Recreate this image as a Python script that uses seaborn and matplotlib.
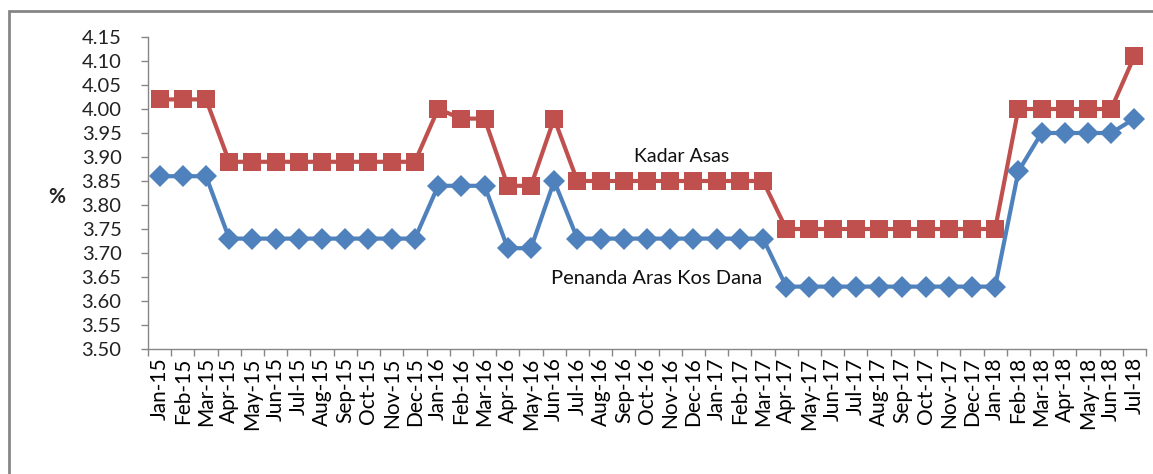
import numpy as np
import pandas as pd
import seaborn as sns
import matplotlib.pyplot as plt
from matplotlib.patches import Rectangle

# ---- data ------------------------------------------------------------
months = ["Jan", "Feb", "Mar", "Apr", "May", "Jun",
          "Jul", "Aug", "Sep", "Oct", "Nov", "Dec"]
years = ["15", "16", "17", "18"]
labels = [m + "-" + y for y in years for m in months][:43]   # Jan-15 .. Jul-18

kadar_asas = ([4.02] * 3 + [3.89] * 9 + [4.00, 3.98, 3.98, 3.84, 3.84, 3.98]
              + [3.85] * 9 + [3.75] * 10 + [4.00] * 5 + [4.11])
penanda_aras = ([3.86] * 3 + [3.73] * 9 + [3.84] * 3 + [3.71] * 2 + [3.85]
                + [3.73] * 9 + [3.63] * 10 + [3.87] + [3.95] * 4 + [3.98])

df = pd.DataFrame({"pos": np.arange(len(labels)), "bulan": labels,
                   "Kadar Asas": kadar_asas,
                   "Penanda Aras Kos Dana": penanda_aras})

red = "#C0504D"
blue = "#4F81BD"
grey = "#868686"

sns.set_style("white")
plt.rcParams["font.family"] = ["Lato", "DejaVu Sans"]

fig = plt.figure(figsize=(11.53, 4.74), dpi=100)
ax = fig.add_axes([148 / 1153, 1 - 349 / 474, (1146 - 148) / 1153, (349 - 37) / 474])

sns.lineplot(data=df, x="pos", y="Kadar Asas", ax=ax, color=red, lw=3,
             marker="s", markersize=13, markeredgewidth=0)
sns.lineplot(data=df, x="pos", y="Penanda Aras Kos Dana", ax=ax, color=blue, lw=3,
             marker="D", markersize=11, markeredgewidth=0)

# y axis
ax.set_ylim(3.50, 4.15)
yt = np.round(np.arange(3.50, 4.151, 0.05), 2)
ax.set_yticks(yt)
ax.set_yticklabels([f"{v:.2f}" for v in yt], fontsize=14.5, color="#222222")
ax.set_ylabel("")

# x axis: labels centred, tick marks between categories
n = len(labels)
ax.set_xlim(-0.5, n - 0.5)
ax.set_xticks(np.arange(n))
ax.set_xticklabels(labels, rotation=90, fontsize=15, color="black")
ax.set_xticks(np.arange(n + 1) - 0.5, minor=True)
ax.set_xlabel("")
ax.tick_params(axis="x", which="major", length=0, pad=6)
ax.tick_params(axis="x", which="minor", length=5, width=1, color=grey, bottom=True)
ax.tick_params(axis="y", which="major", length=5, width=1, color=grey, left=True, pad=14)

for s in ["top", "right"]:
    ax.spines[s].set_visible(False)
for s in ["left", "bottom"]:
    ax.spines[s].set_color(grey)
    ax.spines[s].set_linewidth(1)

ax.text(22.5, 3.902, "Kadar Asas", fontsize=14, ha="center", va="center", color="#111111")
ax.text(21.4, 3.647, "Penanda Aras Kos Dana", fontsize=14.5, ha="center", va="center", color="#111111")
fig.text(57 / 1153, 1 - 197 / 474, "%", fontsize=15, fontweight="bold", ha="center", va="center")

# chart border (Excel chart area)
fig.add_artist(Rectangle((9 / 1153, -0.1), 1.2, 1.1 - 11 / 474, transform=fig.transFigure,
                         fill=False, ec=grey, lw=2))

fig.savefig("out.png", dpi=100)
